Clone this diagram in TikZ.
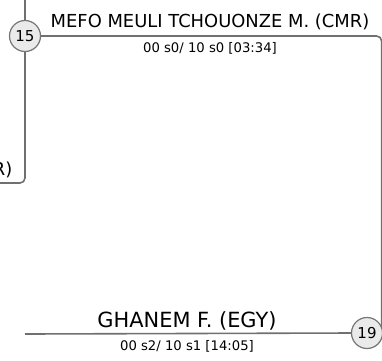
\documentclass[tikz,border=0pt]{standalone}
\usepackage{fontspec}
\setmainfont{DejaVu Sans}
\usepackage{tikz}
\usetikzlibrary{
positioning,
shadows,
backgrounds
}
\definecolor{brkline}{RGB}{112,112,112}
\definecolor{brkfill}{RGB}{234,234,234}
\definecolor{brkedge}{RGB}{118,118,118}

\begin{document}
\begin{tikzpicture}[x=1pt, y=-1pt,
  matchnum/.style={circle, draw=brkedge, fill=brkfill, line width=1.2pt,
    minimum size=31pt, inner sep=0pt, font=\fontsize{15}{15}\selectfont,
    drop shadow={opacity=0.12, shadow xshift=0.6pt, shadow yshift=-0.6pt}},
  brk/.style={draw=brkline, line width=1.6pt, rounded corners=5pt},
  player/.style={anchor=base, inner sep=0pt},
  score/.style={anchor=base, inner sep=0pt, font=\fontsize{13.2}{14}\selectfont}]

\useasboundingbox (0,0) rectangle (382,360);

% Match circles
\node[matchnum] (m15) at (25,36) {15};
\node[matchnum] (m19) at (367,333) {19};

% Free ends of the bracket lines
\coordinate (topend) at (25,-10);
\coordinate (lowend) at (-10,183);
\coordinate (gstart) at (25,334);

% Bracket lines
\begin{scope}[on background layer]
\draw[brk] (m15.north) -- (topend);
\draw[brk] (m15.south) |- (lowend);
\draw[brk] (m15.east) -| ([xshift=-1.5pt]m19.east);
\draw[brk] (gstart) -- (m19.west);
\end{scope}

% Players and scores
\node[player, font=\fontsize{17.9}{18}\selectfont] (pmefo) at (210,27) {MEFO MEULI TCHOUONZE M. (CMR)};
\node[score] (smefo) at (210,52) {00 s0/ 10 s0 [03:34]};
\node[player, font=\fontsize{20.9}{21}\selectfont] (pghanem) at (187,327) {GHANEM F. (EGY)};
\node[score] (sghanem) at (187,350) {00 s2/ 10 s1 [14:05]};
\node[player, anchor=base east, font=\fontsize{17.9}{18}\selectfont] (pprev) at (12.5,175) {R)};

\end{tikzpicture}
\end{document}
